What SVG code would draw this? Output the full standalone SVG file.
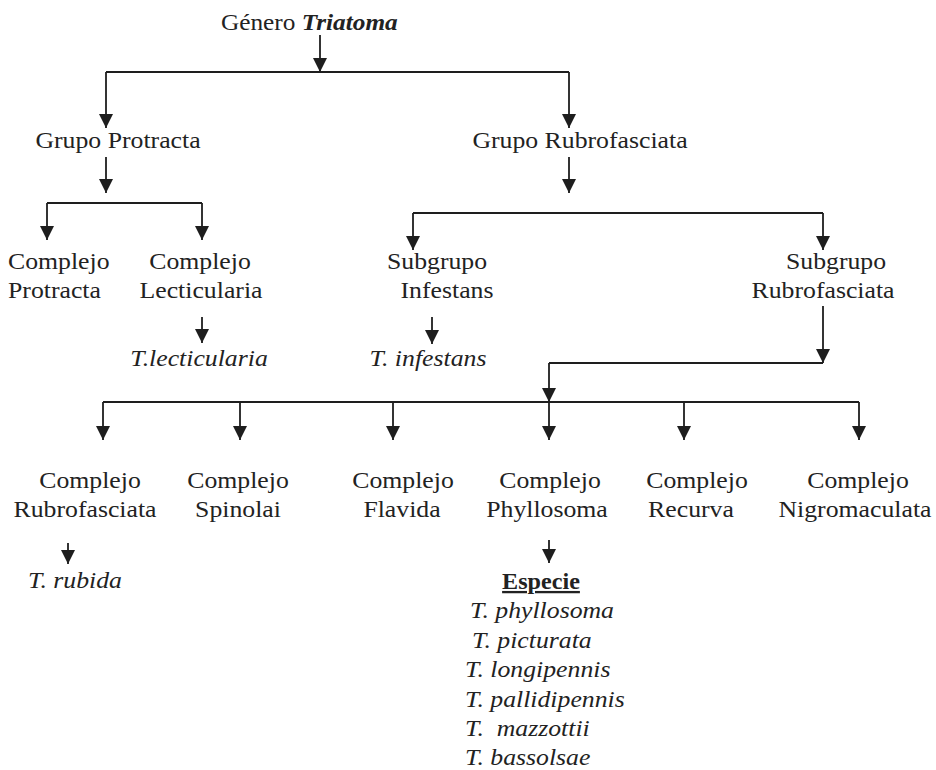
<svg xmlns="http://www.w3.org/2000/svg" width="936" height="770" viewBox="0 0 936 770">
<style>
text{font-family:"Liberation Serif","Times New Roman",serif;font-size:23px;fill:#222}
.c{text-anchor:middle}
.i{font-style:italic}
.bi{font-style:italic;font-weight:bold}
.b{font-weight:bold}
.u{text-decoration:underline}
.ln{fill:none;stroke:#1e1e1e;stroke-width:1.8}
.ar{fill:none;stroke:#1e1e1e;stroke-width:1.8;marker-end:url(#ah)}
</style>
<defs>
<marker id="ah" viewBox="0 0 14 14" refX="14" refY="7" markerWidth="14" markerHeight="14" markerUnits="userSpaceOnUse" orient="auto"><path d="M0,0 L14,7 L0,14 z" fill="#1e1e1e"/></marker>
</defs>
<rect width="936" height="770" fill="#fff"/>
<g id="connectors">
<path class="ar" d="M320,35 V72"/>
<path class="ln" d="M106,72 H569"/>
<path class="ar" d="M106,72 V128"/>
<path class="ar" d="M569,72 V128"/>
<path class="ar" d="M106,157 V193"/>
<path class="ln" d="M47,203 H202"/>
<path class="ar" d="M47,203 V240"/>
<path class="ar" d="M202,203 V240"/>
<path class="ar" d="M569,157 V193"/>
<path class="ln" d="M413,213 H823"/>
<path class="ar" d="M413,213 V250"/>
<path class="ar" d="M823,213 V250"/>
<path class="ar" d="M202,317 V343"/>
<path class="ar" d="M432,317 V344"/>
<path class="ar" d="M823,306 V363"/>
<path class="ln" d="M549,363 H823"/>
<path class="ar" d="M549,363 V402"/>
<path class="ln" d="M103,402 H859"/>
<path class="ar" d="M103,402 V440"/>
<path class="ar" d="M240,402 V440"/>
<path class="ar" d="M393,402 V440"/>
<path class="ar" d="M549,402 V440"/>
<path class="ar" d="M684,402 V440"/>
<path class="ar" d="M859,402 V440"/>
<path class="ar" d="M68,543 V564"/>
<path class="ar" d="M549,540 V563"/>
</g>
<g id="genero"><text transform="translate(221,30) scale(1.1,1)">Género <tspan class="bi">Triatoma</tspan></text></g>
<g id="grupo-protracta"><text class="c" transform="translate(118,148) scale(1.12,1)">Grupo Protracta</text></g>
<g id="grupo-rubrofasciata"><text class="c" transform="translate(580,148) scale(1.12,1)">Grupo Rubrofasciata</text></g>
<g id="complejo-protracta">
<text transform="translate(8,269) scale(1.12,1)">Complejo</text>
<text transform="translate(8,298) scale(1.12,1)">Protracta</text>
</g>
<g id="complejo-lecticularia">
<text class="c" transform="translate(200,269) scale(1.12,1)">Complejo</text>
<text class="c" transform="translate(201,298) scale(1.12,1)">Lecticularia</text>
</g>
<g id="t-lecticularia"><text class="c i" transform="translate(199,366) scale(1.12,1)">T.lecticularia</text></g>
<g id="subgrupo-infestans">
<text class="c" transform="translate(437,269) scale(1.12,1)">Subgrupo</text>
<text class="c" transform="translate(447,298) scale(1.12,1)">Infestans</text>
</g>
<g id="t-infestans"><text class="c i" transform="translate(428,366) scale(1.12,1)">T. infestans</text></g>
<g id="subgrupo-rubrofasciata">
<text class="c" transform="translate(836,269) scale(1.12,1)">Subgrupo</text>
<text class="c" transform="translate(823,298) scale(1.12,1)">Rubrofasciata</text>
</g>
<g id="complejo-rubrofasciata">
<text class="c" transform="translate(90,488) scale(1.12,1)">Complejo</text>
<text class="c" transform="translate(85,517) scale(1.12,1)">Rubrofasciata</text>
</g>
<g id="complejo-spinolai">
<text class="c" transform="translate(238,488) scale(1.12,1)">Complejo</text>
<text class="c" transform="translate(238,517) scale(1.12,1)">Spinolai</text>
</g>
<g id="complejo-flavida">
<text class="c" transform="translate(403,488) scale(1.12,1)">Complejo</text>
<text class="c" transform="translate(402,517) scale(1.12,1)">Flavida</text>
</g>
<g id="complejo-phyllosoma">
<text class="c" transform="translate(550,488) scale(1.12,1)">Complejo</text>
<text class="c" transform="translate(547,517) scale(1.12,1)">Phyllosoma</text>
</g>
<g id="complejo-recurva">
<text class="c" transform="translate(697,488) scale(1.12,1)">Complejo</text>
<text class="c" transform="translate(691,517) scale(1.12,1)">Recurva</text>
</g>
<g id="complejo-nigromaculata">
<text class="c" transform="translate(858,488) scale(1.12,1)">Complejo</text>
<text class="c" transform="translate(855,517) scale(1.12,1)">Nigromaculata</text>
</g>
<g id="t-rubida"><text class="c i" transform="translate(75,588) scale(1.12,1)">T. rubida</text></g>
<g id="especie">
<text class="c b u" transform="translate(541,589) scale(1.05,1)">Especie</text>
<text class="i" transform="translate(470,618) scale(1.12,1)">T. phyllosoma</text>
<text class="i" transform="translate(472,648) scale(1.12,1)">T. picturata</text>
<text class="i" transform="translate(465,677) scale(1.12,1)">T. longipennis</text>
<text class="i" transform="translate(465,707) scale(1.12,1)">T. pallidipennis</text>
<text class="i" xml:space="preserve" transform="translate(465,736) scale(1.12,1)">T.  mazzottii</text>
<text class="i" transform="translate(465,765) scale(1.12,1)">T. bassolsae</text>
</g>
</svg>
